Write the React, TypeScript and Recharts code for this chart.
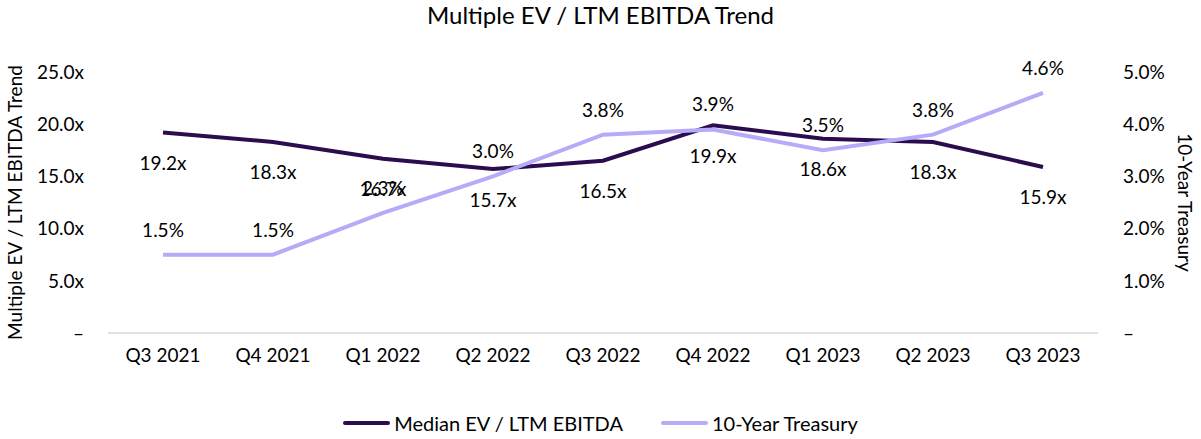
import React from "react";
import {
  LineChart, Line, XAxis, YAxis, Legend, LabelList,
} from "recharts";

const quarters = ["Q3 2021", "Q4 2021", "Q1 2022", "Q2 2022", "Q3 2022", "Q4 2022", "Q1 2023", "Q2 2023", "Q3 2023"];
const medianMultiple = [19.2, 18.3, 16.7, 15.7, 16.5, 19.9, 18.6, 18.3, 15.9];
const treasury = [1.5, 1.5, 2.3, 3.0, 3.8, 3.9, 3.5, 3.8, 4.6];
const leftTicks = [0, 5, 10, 15, 20, 25];
const rightTicks = [0, 1, 2, 3, 4, 5];

const DARK = "#2B0D4F";
const LIGHT = "#B6ABF8";
const FONT = "Lato, 'Open Sans', sans-serif";

const data = quarters.map((q, i) => ({ q, median: medianMultiple[i], treasury: treasury[i] }));

const fmtX = (v: number) => (v === 0 ? "–" : v.toFixed(1) + "x");
const fmtPct = (v: number) => (v === 0 ? "–" : v.toFixed(1) + "%");

function LegendContent() {
  const items = [
    { name: "Median EV / LTM EBITDA", color: DARK },
    { name: "10-Year Treasury", color: LIGHT },
  ];
  return (
    <div style={{ height: 40, display: "flex", justifyContent: "center", alignItems: "center", paddingTop: 8, boxSizing: "border-box", fontSize: 20, color: "#000" }}>
      {items.map((it, i) => (
        <div key={i} style={{ display: "flex", alignItems: "center", marginLeft: i ? 38 : 0 }}>
          <span style={{ display: "inline-block", width: 47, height: 4, borderRadius: 2, background: it.color, marginRight: 4 }} />
          <span>{it.name}</span>
        </div>
      ))}
    </div>
  );
}

export default function App() {
  return (
    <div style={{ position: "absolute", left: 0, top: 0, width: 1201, height: 439, fontFamily: FONT, background: "#fff" }}>
      <div style={{ position: "absolute", top: 0, left: 0, width: 1201, textAlign: "center", fontSize: 24, color: "#000" }}>
        Multiple EV / LTM EBITDA Trend
      </div>
      <LineChart width={1201} height={439} data={data} margin={{ top: 72, right: 0, bottom: 0, left: 0 }}>
        <XAxis
          dataKey="q"
          height={66}
          padding={{ left: 55, right: 55 }}
          tickLine={false}
          axisLine={{ stroke: "#d9d9d9", strokeWidth: 1.5 }}
          tickMargin={10}
          tick={{ fontSize: 19, fill: "#000" }}
        />
        <YAxis
          yAxisId="left"
          width={108}
          domain={[0, 25]}
          ticks={leftTicks}
          tickFormatter={fmtX}
          axisLine={false}
          tickLine={false}
          tickMargin={18}
          tick={{ fontSize: 19, fill: "#000" }}
          label={{ value: "Multiple EV / LTM EBITDA Trend", angle: -90, position: "insideLeft", offset: 15, style: { textAnchor: "middle", fontSize: 19, fill: "#000" } }}
        />
        <YAxis
          yAxisId="right"
          orientation="right"
          width={103}
          domain={[0, 5]}
          ticks={rightTicks}
          tickFormatter={fmtPct}
          axisLine={false}
          tickLine={false}
          tickMargin={19}
          tick={{ fontSize: 19, fill: "#000" }}
          label={{ value: "10-Year Treasury", angle: 90, position: "insideRight", offset: 16, style: { textAnchor: "middle", fontSize: 19, fill: "#000" } }}
        />
        <Legend verticalAlign="bottom" height={40} content={<LegendContent />} />
        <Line
          yAxisId="left"
          dataKey="median"
          name="Median EV / LTM EBITDA"
          stroke={DARK}
          strokeWidth={4}
          dot={false}
          isAnimationActive={false}
        >
          <LabelList dataKey="median" position="bottom" offset={24} formatter={(v: any) => Number(v).toFixed(1) + "x"} fill="#000" fontSize={19} />
        </Line>
        <Line
          yAxisId="right"
          dataKey="treasury"
          name="10-Year Treasury"
          stroke={LIGHT}
          strokeWidth={4}
          dot={false}
          isAnimationActive={false}
        >
          <LabelList dataKey="treasury" position="top" offset={18} formatter={(v: any) => Number(v).toFixed(1) + "%"} fill="#000" fontSize={19} />
        </Line>
      </LineChart>
    </div>
  );
}
